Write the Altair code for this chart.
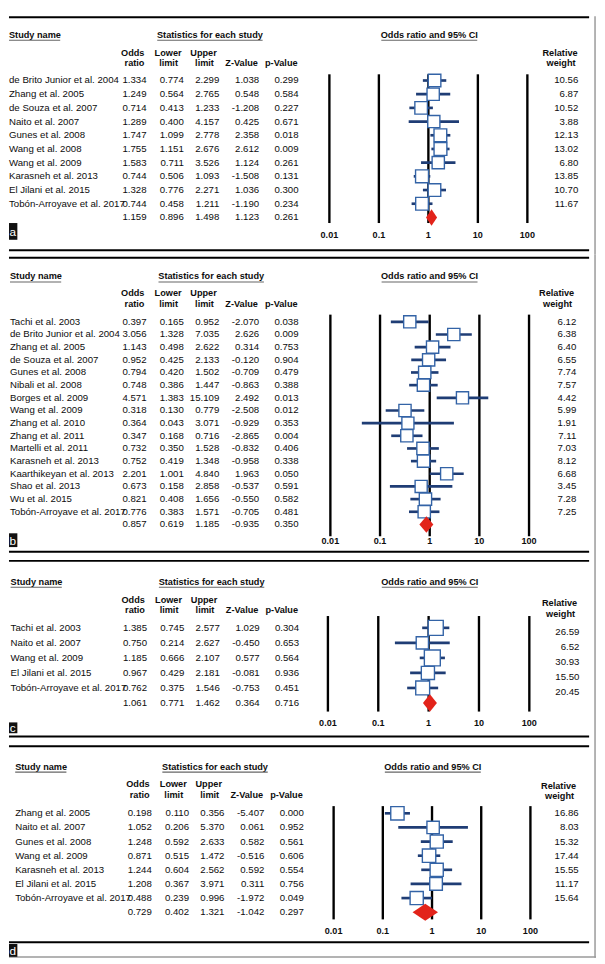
import altair as alt
import pandas as pd

FONT = "Liberation Sans"
INK = "#0d0d0d"
BOX = "#3363a6"
CI = "#1f3d75"
RED = "#e2231a"
W = 596

tick_values = [0.01, 0.1, 1, 10, 100]
tick_labels = ["0.01", "0.1", "1", "10", "100"]

# ---------------- panel a ----------------
studies_a = ["de Brito Junior et al. 2004", "Zhang et al. 2005", "de Souza et al. 2007",
             "Naito et al. 2007", "Gunes et al. 2008", "Wang et al. 2008", "Wang et al. 2009",
             "Karasneh et al. 2013", "El Jilani et al. 2015", "Tobón-Arroyave et al. 2017"]
or_a = [1.334, 1.249, 0.714, 1.289, 1.747, 1.755, 1.583, 0.744, 1.328, 0.744]
lo_a = [0.774, 0.564, 0.413, 0.400, 1.099, 1.151, 0.711, 0.506, 0.776, 0.458]
hi_a = [2.299, 2.765, 1.233, 4.157, 2.778, 2.676, 3.526, 1.093, 2.271, 1.211]
z_a = [1.038, 0.548, -1.208, 0.425, 2.358, 2.612, 1.124, -1.508, 1.036, -1.190]
p_a = [0.299, 0.584, 0.227, 0.671, 0.018, 0.009, 0.261, 0.131, 0.300, 0.234]
w_a = [10.56, 6.87, 10.52, 3.88, 12.13, 13.02, 6.80, 13.85, 10.70, 11.67]
sum_a = [1.159, 0.896, 1.498, 1.123, 0.261]

# ---------------- panel b ----------------
studies_b = ["Tachi et al. 2003", "de Brito Junior et al. 2004", "Zhang et al. 2005",
             "de Souza et al. 2007", "Gunes et al. 2008", "Nibali et al. 2008", "Borges et al. 2009",
             "Wang et al. 2009", "Zhang et al. 2010", "Zhang et al. 2011", "Martelli et al. 2011",
             "Karasneh et al. 2013", "Kaarthikeyan et al. 2013", "Shao et al. 2013", "Wu et al. 2015",
             "Tobón-Arroyave et al. 2017"]
or_b = [0.397, 3.056, 1.143, 0.952, 0.794, 0.748, 4.571, 0.318, 0.364, 0.347, 0.732, 0.752,
        2.201, 0.673, 0.821, 0.776]
lo_b = [0.165, 1.328, 0.498, 0.425, 0.420, 0.386, 1.383, 0.130, 0.043, 0.168, 0.350, 0.419,
        1.001, 0.158, 0.408, 0.383]
hi_b = [0.952, 7.035, 2.622, 2.133, 1.502, 1.447, 15.109, 0.779, 3.071, 0.716, 1.528, 1.348,
        4.840, 2.858, 1.656, 1.571]
z_b = [-2.070, 2.626, 0.314, -0.120, -0.709, -0.863, 2.492, -2.508, -0.929, -2.865, -0.832,
       -0.958, 1.963, -0.537, -0.550, -0.705]
p_b = [0.038, 0.009, 0.753, 0.904, 0.479, 0.388, 0.013, 0.012, 0.353, 0.004, 0.406, 0.338,
       0.050, 0.591, 0.582, 0.481]
w_b = [6.12, 6.38, 6.40, 6.55, 7.74, 7.57, 4.42, 5.99, 1.91, 7.11, 7.03, 8.12, 6.68, 3.45,
       7.28, 7.25]
sum_b = [0.857, 0.619, 1.185, -0.935, 0.350]

# ---------------- panel c ----------------
studies_c = ["Tachi et al. 2003", "Naito et al. 2007", "Wang et al. 2009",
             "El Jilani et al. 2015", "Tobón-Arroyave et al. 2017"]
or_c = [1.385, 0.750, 1.185, 0.967, 0.762]
lo_c = [0.745, 0.214, 0.666, 0.429, 0.375]
hi_c = [2.577, 2.627, 2.107, 2.181, 1.546]
z_c = [1.029, -0.450, 0.577, -0.081, -0.753]
p_c = [0.304, 0.653, 0.564, 0.936, 0.451]
w_c = [26.59, 6.52, 30.93, 15.50, 20.45]
sum_c = [1.061, 0.771, 1.462, 0.364, 0.716]

# ---------------- panel d ----------------
studies_d = ["Zhang et al. 2005", "Naito et al. 2007", "Gunes et al. 2008", "Wang et al. 2009",
             "Karasneh et al. 2013", "El Jilani et al. 2015", "Tobón-Arroyave et al. 2017"]
or_d = [0.198, 1.052, 1.248, 0.871, 1.244, 1.208, 0.488]
lo_d = [0.110, 0.206, 0.592, 0.515, 0.604, 0.367, 0.239]
hi_d = [0.356, 5.370, 2.633, 1.472, 2.562, 3.971, 0.996]
z_d = [-5.407, 0.061, 0.582, -0.516, 0.592, 0.311, -1.972]
p_d = [0.000, 0.952, 0.561, 0.606, 0.554, 0.756, 0.049]
w_d = [16.86, 8.03, 15.32, 17.44, 15.55, 11.17, 15.64]
sum_d = [0.729, 0.402, 1.321, -1.042, 0.297]

panel_letters = ["a", "b", "c", "d"]

# ---------------- layout (styling / positions) ----------------
LAYOUT = {
    "a": dict(h=242, top=1, bot=237.7, hdr=19, l1=37, l2=47.7, r1=37, r2=47.7,
              sx=0, dx=0, stat=204, cix=426.7, relx=559.5, wx=578, wdy=0,
              v0=59, v1=210, ay=222, xr=(325.3, 526.3), row0=65.3, rowN=204.3,
              lab=(210, 227), size=dict(type="linear", domain=[3.88, 13.85], range=[150, 262]),
              dh=0.6),
    "b": dict(h=306, top=3.3, bot=301.7, hdr=22.3, l1=39, l2=50.7, r1=39.3, r2=50.7,
              sx=1, dx=0, stat=205.3, cix=427, relx=556, wx=576, wdy=0,
              v0=61, v1=286, ay=291, xr=(326.3, 528), row0=68.3, rowN=274,
              lab=(283, 297), size=dict(type="linear", domain=[1.91, 8.12], range=[228, 250]),
              dh=0.65),
    "c": dict(h=188, top=5, bot=183.3, hdr=26.3, l1=44.7, l2=54.5, r1=48, r2=59,
              sx=1.6, dx=0.5, stat=205.7, cix=427.2, relx=559, wx=579.2, wdy=4.5,
              v0=61, v1=158, ay=170, xr=(323.8, 528.3), row0=73, rowN=149.3,
              lab=(169, 180), size=dict(type="pow", exponent=2, domain=[6.52, 30.93], range=[85, 420]),
              dh=0.58),
    "d": dict(h=220, top=5.3, bot=204.3, hdr=26, l1=43.7, l2=55, r1=45.3, r2=56,
              sx=6.3, dx=5.3, stat=209.2, cix=430.3, relx=558, wx=578.4, wdy=0,
              v0=66, v1=181, ay=193.3, xr=(329.6, 529.4), row0=73.3, rowN=173.7,
              lab=(206, 219), size=dict(type="linear", domain=[8.03, 17.44], range=[125, 300]),
              dh=0.6),
}

dummy = pd.DataFrame({"k": [0]})


def txt(text, x, y, align="left", bold=False, size=9.8, color=INK):
    return alt.Chart(dummy).mark_text(
        text=text, align=align, baseline="middle", font=FONT, fontSize=size,
        fontWeight="bold" if bold else "normal", color=color
    ).encode(x=alt.value(x), y=alt.value(y))


def hrule(x1, x2, y, color="black", width=2.0):
    return alt.Chart(dummy).mark_rule(color=color, strokeWidth=width).encode(
        x=alt.value(x1), x2=alt.value(x2), y=alt.value(y))


def vrule(x, y1, y2, color="#9a9a9a", width=1.5):
    return alt.Chart(dummy).mark_rule(color=color, strokeWidth=width).encode(
        x=alt.value(x), y=alt.value(y1), y2=alt.value(y2))


def f3(v):
    return f"{v:.3f}"


def panel(key, studies, ors, los, his, zs, ps, ws, summ, last=False):
    c = LAYOUT[key]
    n = len(studies)
    body = pd.DataFrame({"row": list(range(n)), "study": studies, "or": ors, "lo": los,
                         "hi": his, "w": ws, "w_t": [f"{v:.2f}" for v in ws]})
    stats = pd.DataFrame({
        "row": list(range(n + 1)),
        "or_t": [f3(v) for v in ors + [summ[0]]],
        "lo_t": [f3(v) for v in los + [summ[1]]],
        "hi_t": [f3(v) for v in his + [summ[2]]],
        "z_t": [f3(v) for v in zs + [summ[3]]],
        "p_t": [f3(v) for v in ps + [summ[4]]],
    })
    summary = pd.DataFrame({"row": [n], "lo": [summ[1]], "est": [summ[0]], "hi": [summ[2]]})
    ticks = pd.DataFrame({"t": tick_values, "lab": tick_labels})

    xs = alt.Scale(type="log", domain=[0.01, 100], range=list(c["xr"]), nice=False)
    ys = alt.Scale(domain=[0, n], range=[c["row0"], c["rowN"]], nice=False, zero=False)
    Y = alt.Y("row:Q", scale=ys, axis=None)
    dx = c["dx"]

    L = []
    # frame lines
    L.append(hrule(0, 589, c["top"]))
    L.append(hrule(0, 589, c["bot"]))
    L.append(vrule(595, 0, c["h"]))
    if last:
        L.append(hrule(0, 596, c["h"] - 0.8, color="#9a9a9a", width=1.5))

    # headers
    L.append(txt("Study name", c["sx"], c["hdr"], "left", True, 9.3))
    L.append(hrule(c["sx"], c["sx"] + 52, c["hdr"] + 5.5, color="#666666", width=1.1))
    L.append(txt("Statistics for each study", c["stat"], c["hdr"], "center", True, 9.3))
    L.append(hrule(c["stat"] - 53.5, c["stat"] + 53.5, c["hdr"] + 5.5, color="#666666", width=1.1))
    L.append(txt("Odds ratio and 95% CI", c["cix"], c["hdr"], "center", True, 9.3))
    L.append(hrule(c["cix"] - 48.7, c["cix"] + 48.7, c["hdr"] + 5.5, color="#666666", width=1.1))
    L.append(txt("Odds", 137.5 + dx, c["l1"], "right", True, 9.3))
    L.append(txt("ratio", 137.5 + dx, c["l2"], "right", True, 9.3))
    L.append(txt("Lower", 161.5 + dx, c["l1"], "center", True, 9.3))
    L.append(txt("limit", 162 + dx, c["l2"], "center", True, 9.3))
    L.append(txt("Upper", 197.5 + dx, c["l1"], "center", True, 9.3))
    L.append(txt("limit", 198.5 + dx, c["l2"], "center", True, 9.3))
    L.append(txt("Z-Value", 252.7 + dx, c["l2"], "right", True, 9.3))
    L.append(txt("p-Value", 293 + dx, c["l2"], "right", True, 9.3))
    L.append(txt("Relative", c["relx"], c["r1"], "center", True, 9.3))
    L.append(txt("weight", c["relx"] + 1, c["r2"], "center", True, 9.3))

    # panel letter
    L.append(alt.Chart(dummy).mark_rect(color="#111111").encode(
        x=alt.value(0), x2=alt.value(8.5), y=alt.value(c["lab"][0]), y2=alt.value(c["lab"][1])))
    L.append(txt(panel_letters["abcd".index(key)], 3.8, (c["lab"][0] + c["lab"][1]) / 2 + 0.5,
                 "center", False, 12, "white"))

    # reference lines + axis labels
    L.append(alt.Chart(ticks).mark_rule(color="black", strokeWidth=2.4).encode(
        x=alt.X("t:Q", scale=xs, axis=None), y=alt.value(c["v0"]), y2=alt.value(c["v1"])))
    L.append(alt.Chart(ticks).mark_text(font=FONT, fontSize=9.2, fontWeight="bold",
                                        baseline="middle", color=INK).encode(
        x=alt.X("t:Q", scale=xs, axis=None), y=alt.value(c["ay"]), text="lab:N"))

    # text columns
    L.append(alt.Chart(body).mark_text(font=FONT, fontSize=9.8, align="left", baseline="middle",
                                       color=INK).encode(x=alt.value(c["sx"]), y=Y, text="study:N"))
    for field, xr in [("or_t", 139.7), ("lo_t", 177.5), ("hi_t", 213.5), ("z_t", 254), ("p_t", 294)]:
        L.append(alt.Chart(stats).mark_text(font=FONT, fontSize=9.8, align="right",
                                            baseline="middle", color=INK).encode(
            x=alt.value(xr + dx), y=Y, text=f"{field}:N"))
    L.append(alt.Chart(body).mark_text(font=FONT, fontSize=9.8, align="right", baseline="middle",
                                       color=INK, dy=c["wdy"]).encode(
        x=alt.value(c["wx"]), y=Y, text="w_t:N"))

    # CI lines
    L.append(alt.Chart(body).mark_rule(color=CI, strokeWidth=2.7).encode(
        x=alt.X("lo:Q", scale=xs, axis=None), x2="hi:Q", y=Y))
    # boxes
    L.append(alt.Chart(body).mark_point(shape="square", filled=True, fill="white", stroke=BOX,
                                        strokeWidth=1.4, opacity=1, fillOpacity=1).encode(
        x=alt.X("or:Q", scale=xs, axis=None), y=Y,
        size=alt.Size("w:Q", scale=alt.Scale(zero=False, **c["size"]), legend=None)))
    # summary diamond
    L.append(alt.Chart(summary).transform_fold(["lo", "est", "hi"], as_=["k", "x"]).transform_calculate(
        half=f"datum.k === 'est' ? {c['dh']} : 0"
    ).transform_calculate(
        top="datum.row - datum.half", bot="datum.row + datum.half"
    ).mark_area(color=RED, orient="vertical", opacity=1).encode(
        x=alt.X("x:Q", scale=xs, axis=None),
        y=alt.Y("top:Q", scale=ys, axis=None, stack=None),
        y2="bot:Q"))

    return alt.layer(*L).properties(width=W, height=c["h"])


chart = alt.vconcat(
    panel("a", studies_a, or_a, lo_a, hi_a, z_a, p_a, w_a, sum_a),
    panel("b", studies_b, or_b, lo_b, hi_b, z_b, p_b, w_b, sum_b),
    panel("c", studies_c, or_c, lo_c, hi_c, z_c, p_c, w_c, sum_c),
    panel("d", studies_d, or_d, lo_d, hi_d, z_d, p_d, w_d, sum_d, last=True),
    spacing=0, bounds="flush",
).properties(padding=0).configure_view(stroke=None)

chart.save("out.html", embed_options={"renderer": "svg", "actions": False})
